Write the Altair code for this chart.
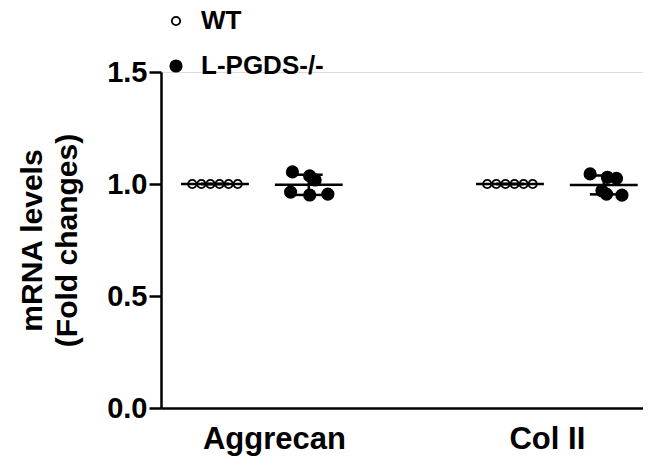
import altair as alt
import pandas as pd

genes = ["Aggrecan", "Col II"]
groups = ["WT", "L-PGDS-/-"]

# fold-change values
wt_aggrecan = [1.0, 1.0, 1.0, 1.0, 1.0, 1.0]
ko_aggrecan = [1.054, 1.036, 1.018, 0.964, 0.951, 0.955]
wt_col2 = [1.0, 1.0, 1.0, 1.0, 1.0, 1.0]
ko_col2 = [1.045, 1.030, 1.025, 0.970, 0.955, 0.950]

# horizontal scatter slots of each dot (GraphPad-style spreading)
wt_spread = [-2.5, -1.5, -0.5, 0.5, 1.5, 2.5]
ko_aggrecan_spread = [-1.8, 0.1, 0.7, -2.0, 0.1, 2.1]
ko_col2_spread = [-1.5, 0.4, 1.4, -0.2, 0.3, 2.0]

GROUP_OFF = 0.159
SLOT = 0.0308
MEAN_HALF = 0.115
CAP_HALF = 0.047

series = [
    ("Aggrecan", "WT", wt_aggrecan, wt_spread),
    ("Aggrecan", "L-PGDS-/-", ko_aggrecan, ko_aggrecan_spread),
    ("Col II", "WT", wt_col2, wt_spread),
    ("Col II", "L-PGDS-/-", ko_col2, ko_col2_spread),
]

pts, summ = [], []
for gene, grp, vals, spread in series:
    center = genes.index(gene) + (-GROUP_OFF if grp == "WT" else GROUP_OFF)
    for v, s in zip(vals, spread):
        pts.append({"gene": gene, "group": grp, "value": v, "x": center + s * SLOT})
    m = pd.Series(vals).mean()
    sd = pd.Series(vals).std()
    summ.append({"gene": gene, "group": grp, "mean": m, "lo": m - sd, "hi": m + sd,
                 "xc": center, "xl": center - MEAN_HALF, "xr": center + MEAN_HALF,
                 "cl": center - CAP_HALF, "cr": center + CAP_HALF})

pts = pd.DataFrame(pts)
summ = pd.DataFrame(summ)

FONT = "Liberation Sans"

xscale = alt.Scale(domain=[-0.342, 1.292], nice=False, zero=False)
yscale = alt.Scale(domain=[0, 1.5], nice=False)

xaxis = alt.Axis(values=[0, 1], labelExpr="datum.value == 0 ? 'Aggrecan' : 'Col II'",
                 ticks=False, grid=False, title=None, domainWidth=2.5, domainColor="black",
                 labelFont=FONT, labelFontWeight="bold", labelFontSize=31,
                 labelColor="black", labelPadding=16, labelBaseline="top",
                 labelOffset=alt.condition("datum.value == 0", alt.value(12), alt.value(-10)))
yaxis = alt.Axis(values=[0, 0.5, 1.0, 1.5], format=".1f", grid=False,
                 title=["mRNA levels", "(Fold changes)"], titleFont=FONT,
                 titleFontWeight="bold", titleFontSize=30, titleLineHeight=35,
                 titleColor="black", titlePadding=24,
                 labelFont=FONT, labelFontWeight="bold", labelFontSize=29,
                 labelColor="black", labelPadding=2, tickSize=12, tickWidth=2.5,
                 tickColor="black", domainWidth=2.5, domainColor="black")

legend = alt.Legend(title=None, orient="none", legendX=2, legendY=-64,
                    labelFont=FONT, labelFontWeight="bold", labelFontSize=26,
                    labelColor="black", rowPadding=19, symbolType="circle",
                    symbolStrokeColor="black", symbolStrokeWidth=1.8, labelOffset=12)

points = alt.Chart(pts).mark_point(shape="circle", filled=True, strokeWidth=1.8,
                                   opacity=1).encode(
    x=alt.X("x:Q", scale=xscale, axis=xaxis),
    y=alt.Y("value:Q", scale=yscale, axis=yaxis),
    fill=alt.Fill("group:N", scale=alt.Scale(domain=groups, range=["white", "black"]), legend=legend),
    stroke=alt.Stroke("group:N", scale=alt.Scale(domain=groups, range=["black", "black"]), legend=legend),
    size=alt.Size("group:N", scale=alt.Scale(domain=groups, range=[70, 130]), legend=legend),
)

mean_rule = alt.Chart(summ).mark_rule(color="black", strokeWidth=2.5).encode(
    x="xl:Q", x2="xr:Q", y="mean:Q")
sd_rule = alt.Chart(summ).mark_rule(color="black", strokeWidth=2.5).encode(
    x="xc:Q", y="lo:Q", y2="hi:Q")
cap_hi = alt.Chart(summ).mark_rule(color="black", strokeWidth=2.5).encode(
    x="cl:Q", x2="cr:Q", y="hi:Q")
cap_lo = alt.Chart(summ).mark_rule(color="black", strokeWidth=2.5).encode(
    x="cl:Q", x2="cr:Q", y="lo:Q")

chart = alt.layer(points, mean_rule, sd_rule, cap_hi, cap_lo).properties(
    width=482, height=336,
    autosize=alt.AutoSizeParams(type="none"),
    padding={"left": 153, "top": 64, "right": 0, "bottom": 52},
).configure_view(stroke=None).configure(background="white")

chart.save("out.html", embed_options={"renderer": "svg", "actions": False})
